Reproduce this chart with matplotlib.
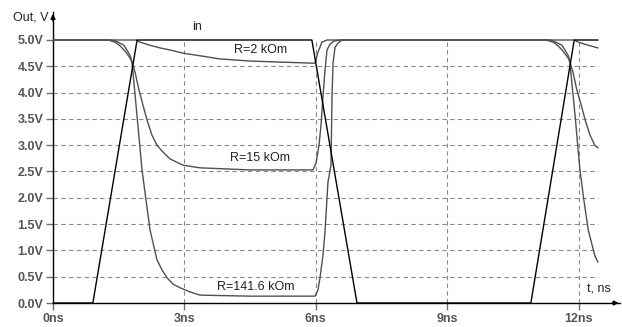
import matplotlib
matplotlib.use("Agg")
import matplotlib.pyplot as plt

plt.rcParams['font.family'] = ['Liberation Sans', 'DejaVu Sans']

# ---- data (time in ns, voltage in V) ----
t_in = [0.0, 0.91, 1.92, 5.91, 6.94, 10.91, 11.90, 12.44]
v_in = [0.0, 0.0, 5.0, 5.0, 0.0, 0.0, 5.0, 5.0]

t_r2 = [0.0, 1.895, 1.986, 2.215, 2.443, 2.671, 2.968, 3.356, 3.813, 4.498, 5.183, 5.913, 5.982,
        6.050, 6.142, 6.256, 11.90, 11.99, 12.22, 12.44]
v_r2 = [5.0, 5.0, 4.96, 4.90, 4.85, 4.81, 4.75, 4.70, 4.64, 4.60, 4.58, 4.56, 4.56,
        4.77, 4.96, 5.0, 5.0, 4.96, 4.90, 4.85]

t_r15 = [0.0, 1.347, 1.484, 1.621, 1.758, 1.872, 1.963, 2.055, 2.146, 2.260, 2.374, 2.511, 2.671,
         2.968, 3.356, 4.498, 5.936, 6.005, 6.073, 6.119, 6.164, 6.210, 6.256, 6.324, 6.416, 6.553,
         11.35, 11.48, 11.62, 11.76, 11.87, 11.96, 12.06, 12.15, 12.26, 12.37, 12.44]
v_r15 = [5.0, 5.0, 4.96, 4.90, 4.71, 4.39, 4.05, 3.76, 3.48, 3.19, 3.00, 2.87, 2.74,
         2.62, 2.57, 2.53, 2.53, 2.66, 3.00, 3.38, 3.92, 4.43, 4.81, 4.92, 4.98, 5.0,
         5.0, 4.96, 4.90, 4.71, 4.39, 4.05, 3.76, 3.48, 3.19, 3.00, 2.95]

t_r141 = [0.0, 1.256, 1.416, 1.530, 1.644, 1.758, 1.804, 1.918, 2.032, 2.123, 2.215, 2.374, 2.489,
          2.603, 2.740, 2.900, 3.128, 3.356, 4.498, 5.982, 6.050, 6.096, 6.164, 6.210, 6.278,
          6.347, 6.370, 6.393, 6.439, 6.507, 6.598,
          11.25, 11.42, 11.53, 11.64, 11.76, 11.80, 11.92, 12.03, 12.12, 12.22, 12.37, 12.44]
v_r141 = [5.0, 5.0, 4.96, 4.89, 4.79, 4.66, 4.58, 3.56, 2.53, 1.96, 1.39, 0.82, 0.63,
          0.48, 0.36, 0.29, 0.21, 0.15, 0.13, 0.13, 0.25, 0.48, 0.91, 1.35, 2.30,
          2.62, 3.92, 4.56, 4.86, 4.94, 5.0,
          5.0, 4.96, 4.89, 4.79, 4.66, 4.58, 3.56, 2.53, 1.96, 1.39, 0.90, 0.78]

x_ticks = [0, 3, 6, 9, 12]
x_labels = ["0ns", "3ns", "6ns", "9ns", "12ns"]
y_ticks = [0.0, 0.5, 1.0, 1.5, 2.0, 2.5, 3.0, 3.5, 4.0, 4.5, 5.0]
y_labels = ["0.0V", "0.5V", "1.0V", "1.5V", "2.0V", "2.5V", "3.0V", "3.5V", "4.0V", "4.5V", "5.0V"]
t_end = 12.44

W, H = 622, 327
fig = plt.figure(figsize=(W / 100, H / 100), dpi=100)
ax = fig.add_axes([53 / W, (H - 303) / H, (620 - 53) / W, (303 - 12) / H])
ax.set_xlim(0, (620 - 53) / 43.8)
ax.set_ylim(0, (303 - 12) / 52.6)

grid_kw = dict(color='#8a8a8a', lw=0.8, linestyles=(0, (4, 3)), zorder=1)
ax.hlines(y_ticks[1:-1], 0, t_end, **grid_kw)
ax.vlines(x_ticks[1:], 0, 5.0, **grid_kw)

out_col = '#505050'
ax.plot(t_r2, v_r2, color=out_col, lw=1.0, zorder=3)
ax.plot(t_r15, v_r15, color=out_col, lw=1.0, zorder=3)
ax.plot(t_r141, v_r141, color=out_col, lw=1.0, zorder=3)
ax.plot(t_in, v_in, color='black', lw=1.0, zorder=4)

for s in ['top', 'right']:
    ax.spines[s].set_visible(False)
for s in ['left', 'bottom']:
    ax.spines[s].set_color('black')
    ax.spines[s].set_linewidth(1.0)

ax.set_xticks(x_ticks)
ax.set_xticklabels(x_labels)
ax.set_yticks(y_ticks)
ax.set_yticklabels(y_labels)
ax.tick_params(axis='both', colors='#707070', length=5, width=1.0, labelsize=9)
ax.tick_params(axis='y', pad=2)
ax.tick_params(axis='x', pad=2)
for lab in ax.get_xticklabels() + ax.get_yticklabels():
    lab.set_fontweight('bold')
    lab.set_color('#555555')

# axis arrows
ax.annotate('', xy=(0, 5.55), xytext=(0, 5.30), xycoords='data',
            arrowprops=dict(arrowstyle='-|>', color='black', lw=1.0, mutation_scale=7),
            annotation_clip=False)
ax.annotate('', xy=(12.98, 0), xytext=(12.7, 0), xycoords='data',
            arrowprops=dict(arrowstyle='-|>', color='black', lw=1.0, mutation_scale=7),
            annotation_clip=False)

ax.text(3.29, 5.25, "in", fontsize=9, ha='center', va='center', color='#222222')
ax.text(4.73, 4.81, "R=2 kOm", fontsize=9, ha='center', va='center', color='#222222')
ax.text(4.73, 2.76, "R=15 kOm", fontsize=9, ha='center', va='center', color='#222222')
ax.text(4.63, 0.30, "R=141.6 kOm", fontsize=9, ha='center', va='center', color='#222222')
ax.text(12.47, 0.25, "t, ns", fontsize=9, ha='center', va='center', color='#222222')
fig.text(31 / W, 1 - 18 / H, "Out, V", fontsize=9, ha='center', va='center', color='#222222')

fig.savefig("out.png", dpi=100)
